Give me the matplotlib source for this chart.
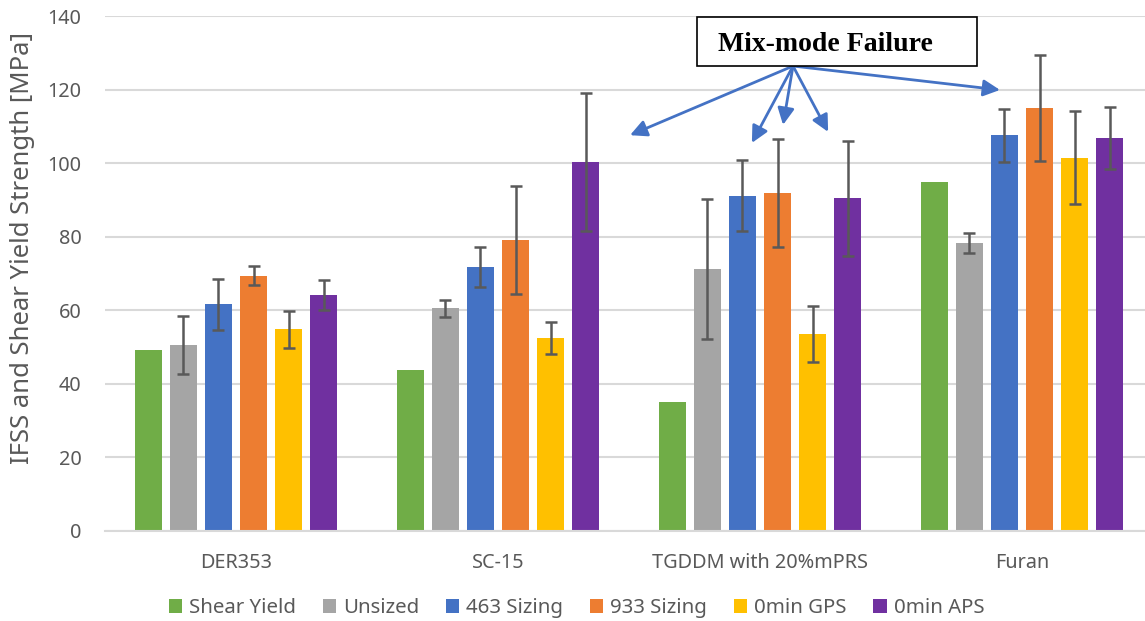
import numpy as np
import matplotlib.pyplot as plt
from matplotlib.patches import Rectangle

categories = ['DER353', 'SC-15', 'TGDDM with 20%mPRS', 'Furan']
series = ['Shear Yield', 'Unsized', '463 Sizing', '933 Sizing', '0min GPS', '0min APS']
colors = ['#70AD47', '#A5A5A5', '#4472C4', '#ED7D31', '#FFC000', '#7030A0']

shear_yield = [49.1, 43.9, 35.0, 95.0]
unsized = [50.6, 60.5, 71.2, 78.2]
sizing_463 = [61.6, 71.7, 91.2, 107.6]
sizing_933 = [69.4, 79.1, 91.8, 115.1]
gps_0min = [54.8, 52.5, 53.6, 101.5]
aps_0min = [64.1, 100.4, 90.4, 106.8]

err_unsized = [7.8, 2.4, 19.1, 2.7]
err_463 = [7.0, 5.5, 9.7, 7.2]
err_933 = [2.6, 14.7, 14.7, 14.4]
err_gps = [5.0, 4.4, 7.7, 12.6]
err_aps = [4.0, 18.8, 15.6, 8.5]

values = [shear_yield, unsized, sizing_463, sizing_933, gps_0min, aps_0min]
errors = [None, err_unsized, err_463, err_933, err_gps, err_aps]

plt.rcParams['font.family'] = ['Noto Sans', 'DejaVu Sans']
fig = plt.figure(figsize=(11.45, 6.21), dpi=100)
ax = fig.add_axes([105 / 1145, 90 / 621, 1048 / 1145, 515 / 621])

x = np.arange(len(categories))
step = 0.1336
width = 0.105
for i, (name, vals, err, c) in enumerate(zip(series, values, errors, colors)):
    pos = x + (i - 2.5) * step
    ax.bar(pos, vals, width, color=c, label=name, zorder=2)
    if err is not None:
        ax.errorbar(pos, vals, yerr=err, fmt='none', ecolor='#595959',
                    elinewidth=1.8, capsize=4.5, capthick=1.8, zorder=3)

ax.set_xlim(-0.5, 3.5)
ax.set_ylim(0, 140)
ax.set_yticks(range(0, 141, 20))
ax.set_xticks(x)
ax.set_xticklabels(categories)
ax.tick_params(axis='both', length=0, labelsize=14.3, colors='#595959')
ax.tick_params(axis='y', pad=17)
ax.tick_params(axis='x', pad=16)
ax.yaxis.grid(True, color='#D9D9D9', linewidth=1.5, zorder=0)
ax.set_axisbelow(True)
for s in ['left', 'right', 'top']:
    ax.spines[s].set_visible(False)
ax.spines['bottom'].set_color('#D9D9D9')
ax.spines['bottom'].set_linewidth(1.5)
ax.set_ylabel('IFSS and Shear Yield Strength [MPa]', fontsize=18.5, color='#595959')
ax.yaxis.set_label_coords(-0.067, 0.5495)

ax.legend(loc='upper center', bbox_to_anchor=(0.45, -0.095), ncol=6, frameon=False,
          fontsize=14.7, labelcolor='#595959', handlelength=0.65, handleheight=0.65,
          handletextpad=0.35, columnspacing=1.3)

# annotation box and arrows
ax.add_patch(Rectangle((1.760, 126.5), 1.068, 13.3, facecolor='white',
                       edgecolor='black', linewidth=1.2, clip_on=False, zorder=5))
ax.text(2.248, 132.3, 'Mix-mode Failure', ha='center', va='center',
        fontsize=20, fontweight='bold', family='Liberation Serif', zorder=6)
origin = (2.126, 126.4)
targets = [(1.504, 107.6), (1.969, 105.5), (2.088, 110.4), (2.260, 108.5), (2.916, 119.9)]
for t in targets:
    ax.annotate('', xy=t, xytext=origin,
                arrowprops=dict(arrowstyle='-|>', color='#4472C4', lw=2,
                                mutation_scale=25, shrinkA=0, shrinkB=0),
                zorder=4)

fig.savefig('out.png', dpi=100)
